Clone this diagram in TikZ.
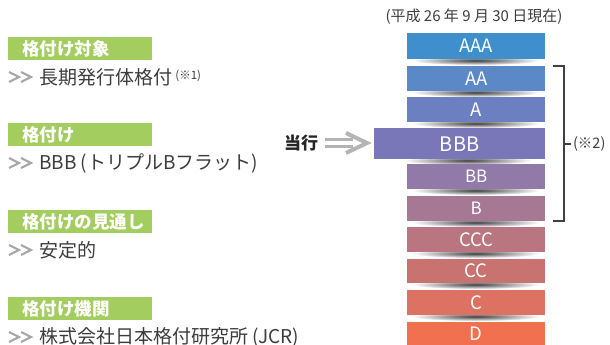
\documentclass[tikz,border=0pt]{standalone}
\usepackage{fontspec}
\setmainfont{Noto Sans CJK JP}
\definecolor{tagGreen}{HTML}{A3CD5F}
\definecolor{txtGray}{HTML}{3C3C3C}
\definecolor{chevGray}{HTML}{A8A8AA}
\definecolor{arrGray}{HTML}{B4B4B6}
\definecolor{cAAA}{HTML}{3F8FCD}
\definecolor{cAA}{HTML}{5B89C7}
\definecolor{cA}{HTML}{6C80C1}
\definecolor{cBBB}{HTML}{7A77B8}
\definecolor{cBB}{HTML}{917AA8}
\definecolor{cB}{HTML}{A67893}
\definecolor{cCCC}{HTML}{B97680}
\definecolor{cCC}{HTML}{C97371}
\definecolor{cC}{HTML}{DD7262}
\definecolor{cD}{HTML}{F0704F}
\tikzset{
  tag/.style={fill=tagGreen, text=white, font=\fontsize{17.5}{17.5}\selectfont\bfseries,
    text width=144pt, inner xsep=0pt, inner ysep=0pt, minimum height=23pt, align=left, anchor=north west},
  item/.style={text=txtGray, font=\fontsize{19}{19}\selectfont, anchor=west, inner sep=0pt},
  chev/.style={draw=chevGray, line width=2.2pt, miter limit=10},
  bar/.style={text=white, font=\fontsize{18.5}{18.5}\selectfont, inner sep=0pt, anchor=north west},
  barshadow/.style={inner color=black!75, outer color=white},
  brk/.style={draw=black!75, line width=1.1pt}
}
\begin{document}
\begin{tikzpicture}[x=1pt,y=-1pt]
\useasboundingbox (0,0) rectangle (610,345);
% left tags
\node[tag] (g1) at (8,37)  {\hspace*{14pt}格付け対象};
\node[tag] (g2) at (8,123) {\hspace*{14pt}格付け};
\node[tag] (g3) at (8,210) {\hspace*{14pt}格付けの見通し};
\node[tag] (g4) at (8,297) {\hspace*{14pt}格付け機関};
% chevrons
\foreach \yy in {77,163,250,337}{
  \draw[chev] (9,\yy-5) -- (19,\yy) -- (9,\yy+5);
  \draw[chev] (21,\yy-5) -- (31,\yy) -- (21,\yy+5);
}
\node[item] (i1) at (39,77)  {長期発行体格付\,\raisebox{5pt}{\fontsize{11.5}{11.5}\selectfont (※1)}};
\node[item] (i2) at (39,163) {BBB (トリプルBフラット)};
\node[item] (i3) at (39,250) {安定的};
\node[item] (i4) at (39,337) {株式会社日本格付研究所 (JCR)};
% header
\node[text=txtGray, font=\fontsize{15}{15}\selectfont, inner sep=0pt] (hdr) at (474,17) {(平成 26 年 9 月 30 日現在)};
% shadows
\foreach \yb/\xc in {59/476,91/476,122/476,159/468,189/476,221/476,252/476,283/476,315/476}{
  \shade[barshadow] (\xc,\yb+1.5) ellipse [x radius=64, y radius=4.5];
}
% bars
\node[bar, fill=cAAA, minimum width=138pt, minimum height=26pt] (bAAA) at (407,33) {AAA};
\node[bar, fill=cAA, minimum width=138pt, minimum height=25pt] (bAA) at (407,66) {AA};
\node[bar, fill=cA, minimum width=138pt, minimum height=25pt] (bA) at (407,97) {A};
\node[bar, fill=cBBB, minimum width=171pt, minimum height=31pt, font=\fontsize{20}{20}\selectfont] (bBBB) at (374,128) {BBB};
\node[bar, fill=cBB, minimum width=138pt, minimum height=25pt, font=\fontsize{17}{17}\selectfont] (bBB) at (407,164) {BB};
\node[bar, fill=cB, minimum width=138pt, minimum height=25pt, font=\fontsize{17}{17}\selectfont] (bB) at (407,196) {B};
\node[bar, fill=cCCC, minimum width=138pt, minimum height=25pt] (bCCC) at (407,227) {CCC};
\node[bar, fill=cCC, minimum width=138pt, minimum height=24pt] (bCC) at (407,259) {CC};
\node[bar, fill=cC, minimum width=138pt, minimum height=25pt] (bC) at (407,290) {C};
\node[bar, fill=cD, minimum width=138pt, minimum height=24pt] (bD) at (407,322) {D};
% current marker
\node[font=\fontsize{17}{17}\selectfont\bfseries, text=black!85, inner sep=0pt, anchor=west] (cur) at (284,143) {当行};
\coordinate (arrL) at (325,143);
\coordinate (arrT) at (367,143);
\draw[draw=arrGray, line width=3pt] ([yshift=-3.5pt]arrL) -- ([yshift=-3.5pt,xshift=-14pt]arrT);
\draw[draw=arrGray, line width=3pt] ([yshift=3.5pt]arrL) -- ([yshift=3.5pt,xshift=-14pt]arrT);
\draw[draw=arrGray, line width=4pt, miter limit=10] ([xshift=-21pt,yshift=-10pt]arrT) -- (arrT) -- ([xshift=-21pt,yshift=10pt]arrT);
% bracket
\coordinate (bk1) at (553,66);
\coordinate (bk2) at (564,66);
\coordinate (bk3) at (564,221);
\coordinate (bk4) at (553,221);
\coordinate (bkm) at (564,144);
\draw[brk] (bk1) -- (bk2) -- (bk3) -- (bk4);
\draw[brk] (bkm) -- ++(7,0) node[right, inner sep=1.5pt, text=txtGray, font=\fontsize{14.5}{14.5}\selectfont] (n2) {(※2)};
\end{tikzpicture}
\end{document}
